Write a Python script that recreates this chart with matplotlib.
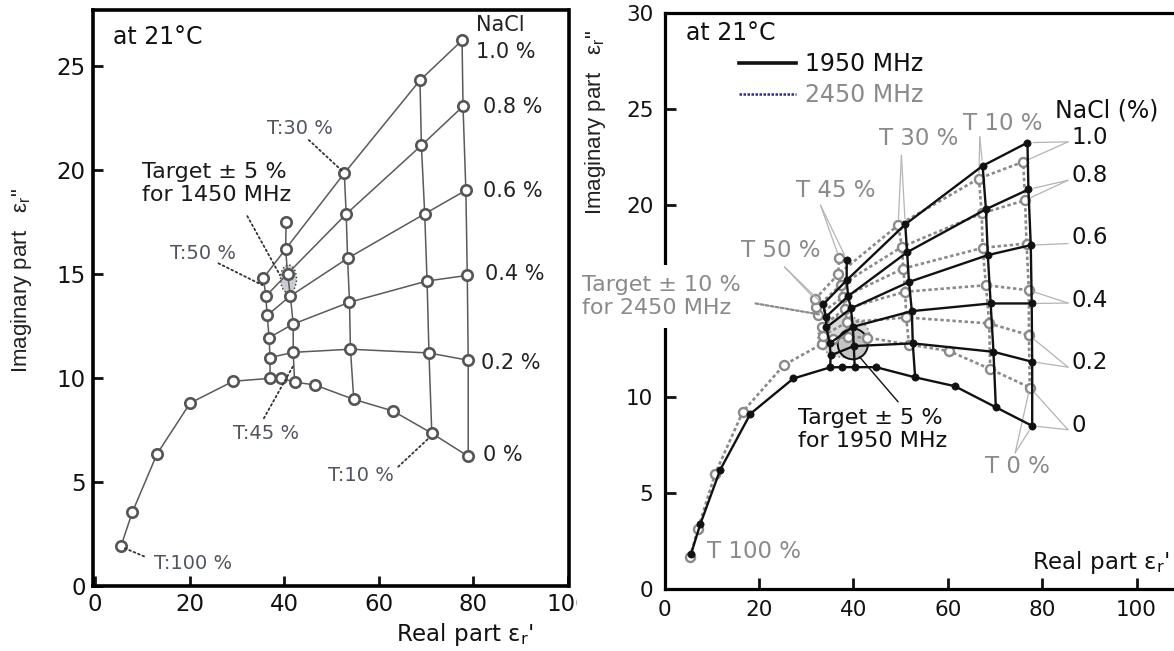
import matplotlib
matplotlib.use("Agg")
import matplotlib.pyplot as plt
from matplotlib.patches import Ellipse, Rectangle
from matplotlib.lines import Line2D

plt.rcParams['font.family'] = ['DejaVu Sans']
plt.rcParams['mathtext.fontset'] = 'dejavusans'
plt.rcParams['mathtext.default'] = 'regular'

# ---------------- data ----------------
nacl_levels = ["0.2", "0.4", "0.6", "0.8", "1.0"]
t_columns = ["T50", "T45", "T30", "T10", "T0"]
sweep_col_idx = [5, 7, 9, 11, 12]   # index of each T column inside the 0 % NaCl sweep

# 1450 MHz (left panel)
l_sweep_re = [5.5, 7.9, 13.1, 20.1, 29.2, 37.0, 39.4, 42.2, 46.5, 54.7, 63.0, 71.2, 78.9]
l_sweep_im = [1.91, 3.54, 6.33, 8.78, 9.83, 9.97, 9.98, 9.79, 9.65, 8.96, 8.40, 7.33, 6.22]
l_re = [[37.0, 41.9, 54.0, 70.6, 78.9],
        [36.8, 41.9, 53.8, 70.2, 78.7],
        [36.4, 41.3, 53.4, 69.7, 78.4],
        [36.1, 40.7, 53.1, 69.0, 77.8],
        [35.6, 40.3, 52.7, 68.7, 77.6]]
l_im = [[10.97, 11.22, 11.37, 11.19, 10.84],
        [11.93, 12.58, 13.63, 14.65, 14.92],
        [13.00, 13.93, 15.74, 17.88, 19.01],
        [13.92, 15.00, 17.87, 21.17, 23.05],
        [14.79, 16.19, 19.83, 24.30, 26.22]]
l_top = (40.4, 17.49)

# 1950 MHz (right panel, black)
b_sweep_re = [5.6, 7.6, 11.8, 18.2, 27.3, 35.1, 37.6, 40.3, 44.8, 53.1, 61.5, 70.2, 77.9]
b_sweep_im = [1.81, 3.39, 6.21, 9.13, 10.97, 11.55, 11.56, 11.56, 11.56, 11.03, 10.57, 9.47, 8.50]
b_re = [[35.2, 40.1, 52.6, 69.7, 77.9],
        [35.0, 39.9, 52.4, 69.1, 77.8],
        [34.3, 39.5, 51.8, 68.5, 77.6],
        [34.2, 38.9, 51.4, 68.1, 77.1],
        [33.6, 38.6, 51.0, 67.4, 76.9]]
b_im = [[12.17, 12.66, 12.80, 12.36, 11.84],
        [12.80, 13.66, 14.48, 14.88, 14.88],
        [13.63, 14.62, 16.00, 17.40, 17.92],
        [14.18, 15.26, 17.55, 19.79, 20.82],
        [14.83, 16.09, 19.00, 22.05, 23.26]]
b_top = (38.6, 17.17)

# 2450 MHz (right panel, grey)
g_sweep_re = [5.4, 7.1, 10.7, 16.6, 25.3, 33.3, 35.8, 38.9, 43.0, 51.8, 60.3, 69.0, 77.4]
g_sweep_im = [1.67, 3.14, 5.99, 9.24, 11.67, 12.76, 13.05, 13.14, 13.10, 12.74, 12.40, 11.46, 10.50]
g_re = [[33.5, 38.7, 51.2, 68.8, 77.2],
        [33.3, 38.2, 51.0, 68.1, 77.2],
        [32.6, 37.8, 50.6, 67.4, 76.7],
        [32.2, 37.3, 50.3, 67.2, 76.4],
        [31.9, 36.8, 49.5, 66.6, 76.0]]
g_im = [[13.20, 13.90, 14.15, 13.84, 13.23],
        [13.66, 14.60, 15.49, 15.83, 15.57],
        [14.27, 15.20, 16.70, 17.78, 18.00],
        [14.67, 15.83, 17.83, 19.57, 20.26],
        [15.10, 16.40, 18.96, 21.39, 22.26]]
g_top = (37.0, 17.27)

x_ticks = [0, 20, 40, 60, 80, 100]
l_y_ticks = [0, 5, 10, 15, 20, 25]
r_y_ticks = [0, 5, 10, 15, 20, 25, 30]
r_y_ticklabels = ["0", "5", "10", "", "20", "25", "30"]   # "15" hidden under the target note


def draw_grid(ax, s_re, s_im, rows_re, rows_im, top, line_kw, mark_kw, zl, zm):
    ax.plot(s_re, s_im, zorder=zl, **line_kw)
    ax.plot(s_re, s_im, ls='none', zorder=zm, **mark_kw)
    for re, im in zip(rows_re, rows_im):
        ax.plot(re, im, zorder=zl, **line_kw)
        ax.plot(re, im, ls='none', zorder=zm, **mark_kw)
    for j, si in enumerate(sweep_col_idx):
        cre = [s_re[si]] + [r[j] for r in rows_re]
        cim = [s_im[si]] + [r[j] for r in rows_im]
        if t_columns[j] == "T45":
            cre.append(top[0])
            cim.append(top[1])
        ax.plot(cre, cim, zorder=zl, **line_kw)
    ax.plot([top[0]], [top[1]], ls='none', zorder=zm, **mark_kw)


W, H = 1174, 651
fig = plt.figure(figsize=(W / 100, H / 100), dpi=100)

# ---------------- left panel ----------------
ax1 = fig.add_axes([92.6 / W, 1 - 585.7 / H, 475.9 / W, 575.7 / H])
ax1.set_xlim(-0.51, 100.1)
ax1.set_ylim(0, 27.68)
for s in ax1.spines.values():
    s.set_linewidth(2.6)
ax1.set_xticks(x_ticks)
ax1.set_yticks(l_y_ticks)
ax1.tick_params(direction='in', length=7, width=2, labelsize=16.5, pad=5, colors='#111')

line_l = dict(color='#5a5a5a', lw=1.1)
mark_l = dict(marker='o', ms=7.5, mfc='white', mec='#555', mew=1.9)
ax1.add_patch(Ellipse((40.9, 14.75), 3.4, 1.35, fc='#c9ccd3', ec='#333', ls=':', lw=1.0, zorder=1.5))
draw_grid(ax1, l_sweep_re, l_sweep_im, l_re, l_im, l_top, line_l, mark_l, 2, 3)

tcol = '#50555f'
ax1.text(3.8, 26.38, "at 21°C", fontsize=17, va='center', ha='left', color='#111')
ax1.text(80.5, 26.96, "NaCl", fontsize=15, va='center', ha='left', color='#222')
nacl_lab_l = ["1.0 %", "0.8 %", "0.6 %", "0.4 %", "0.2 %", "0 %"]
nacl_lab_pos_l = [(80.5, 25.64), (82.0, 23.04), (82.0, 19.0), (82.5, 14.97), (81.6, 10.7), (82.0, 6.28)]
for lab, (x, y) in zip(nacl_lab_l, nacl_lab_pos_l):
    ax1.text(x, y, lab, fontsize=15, va='center', ha='left', color='#222')

ax1.text(36.4, 21.96, "T:30 %", fontsize=14, va='center', ha='left', color=tcol)
ax1.text(15.9, 15.95, "T:50 %", fontsize=14, va='center', ha='left', color=tcol)
ax1.text(29.2, 7.34, "T:45 %", fontsize=14, va='center', ha='left', color=tcol)
ax1.text(49.3, 5.32, "T:10 %", fontsize=14, va='center', ha='left', color=tcol)
ax1.text(12.5, 1.09, "T:100 %", fontsize=14, va='center', ha='left', color=tcol)
ax1.text(9.9, 19.34, "Target ± 5 %\nfor 1450 MHz", fontsize=16, va='center', ha='left',
         color='#1a1a1a', linespacing=1.15)

dot = dict(arrowstyle='-', color='#333', lw=1.3, ls=':', shrinkA=0, shrinkB=0)
for st, en in [((45.2, 21.43), (52.2, 19.95)), ((26.1, 15.5), (35.4, 14.45)),
               ((32.2, 17.77), (39.1, 14.93)), ((35.7, 8.05), (41.8, 10.53)),
               ((64.1, 5.72), (70.6, 7.1)), ((6.3, 1.8), (10.8, 1.37))]:
    ax1.annotate("", xy=en, xytext=st, arrowprops=dot)

# ---------------- right panel ----------------
ax2 = fig.add_axes([664.5 / W, 1 - 589 / H, (1190 - 664.5) / W, 575.7 / H])
ax2.set_xlim(0, (1190 - 664.5) / 4.72)
ax2.set_ylim(0, 30)
for s in ax2.spines.values():
    s.set_linewidth(2.3)
ax2.spines['right'].set_visible(False)
ax2.set_xticks(x_ticks)
ax2.set_yticks(r_y_ticks)
ax2.set_yticklabels(r_y_ticklabels)
ax2.tick_params(direction='in', length=8, width=2, labelsize=15.5, pad=8, colors='#111')

grey = '#8a8a8a'
ax2.add_patch(Ellipse((38.0, 13.15), 11.0, 2.15, fc='#dadada', ec=grey, ls=':', lw=1.2, zorder=1.2))
ax2.add_patch(Ellipse((39.9, 12.77), 6.4, 1.6, fc='#c4c4c4', ec='#111', lw=1.4, zorder=1.4))

line_g = dict(color=grey, lw=1.9, ls=(0, (1.3, 1.0)))
mark_g = dict(marker='o', ms=6.5, mfc='white', mec=grey, mew=1.7)
line_b = dict(color='#111', lw=1.7)
mark_b = dict(marker='o', ms=5.2, mfc='#111', mec='#111', mew=0.5)
draw_grid(ax2, g_sweep_re, g_sweep_im, g_re, g_im, g_top, line_g, mark_g, 2, 3)
draw_grid(ax2, b_sweep_re, b_sweep_im, b_re, b_im, b_top, line_b, mark_b, 4, 5)

ax2.text(4.6, 28.96, "at 21°C", fontsize=17, va='center', ha='left', color='#111')
leg = ax2.legend(handles=[Line2D([], [], color='#111', lw=2.6),
                          Line2D([], [], color='#2b2b90', lw=1.8, ls=(0, (1, 0.6)))],
                 labels=["1950 MHz", "2450 MHz"], loc='upper left',
                 bbox_to_anchor=(0.1418, 0.932), frameon=False, fontsize=17,
                 handlelength=2.4, handletextpad=0.4, labelspacing=0.28,
                 borderpad=0, borderaxespad=0)
leg.get_texts()[0].set_color('#111')
leg.get_texts()[1].set_color(grey)

ax2.text(82.7, 24.95, "NaCl (%)", fontsize=17, va='center', ha='left', color='#111')
nacl_lab_r = ["1.0", "0.8", "0.6", "0.4", "0.2", "0"]
nacl_lab_y_r = [23.54, 21.56, 18.33, 15.05, 11.82, 8.54]
for lab, y in zip(nacl_lab_r, nacl_lab_y_r):
    ax2.text(86.3, y, lab, fontsize=16.5, va='center', ha='left', color='#111')

leader = dict(arrowstyle='-', color='#b4b4b4', lw=0.9, shrinkA=0, shrinkB=4)
# NaCl leaders: label anchor -> black / grey T0 points
nacl_anchor_y = [23.3, 21.3, 18.0, 14.9, 11.56, 8.3]
rows_b_t0 = [b_re[4][4], b_re[3][4], b_re[2][4], b_re[1][4], b_re[0][4], b_sweep_re[12]]
rows_bi_t0 = [b_im[4][4], b_im[3][4], b_im[2][4], b_im[1][4], b_im[0][4], b_sweep_im[12]]
rows_g_t0 = [g_re[4][4], g_re[3][4], g_re[2][4], g_re[1][4], g_re[0][4], g_sweep_re[12]]
rows_gi_t0 = [g_im[4][4], g_im[3][4], g_im[2][4], g_im[1][4], g_im[0][4], g_sweep_im[12]]
for k, ay in enumerate(nacl_anchor_y):
    ax2.annotate("", xy=(rows_b_t0[k], rows_bi_t0[k]), xytext=(85.5, ay), arrowprops=leader)
    if nacl_lab_r[k] != "0.6":
        ax2.annotate("", xy=(rows_g_t0[k], rows_gi_t0[k]), xytext=(85.5, ay), arrowprops=leader)

# T labels
ax2.text(45.4, 23.49, "T 30 %", fontsize=16.5, va='center', ha='left', color=grey)
ax2.text(63.2, 24.27, "T 10 %", fontsize=16.5, va='center', ha='left', color=grey)
ax2.text(27.9, 20.78, "T 45 %", fontsize=16.5, va='center', ha='left', color=grey)
ax2.text(16.2, 17.66, "T 50 %", fontsize=16.5, va='center', ha='left', color=grey)
ax2.text(68.0, 6.37, "T 0 %", fontsize=16.5, va='center', ha='left', color=grey)
ax2.text(9.0, 1.94, "T 100 %", fontsize=16.5, va='center', ha='left', color=grey)

t_leads = [((50.2, 22.6), [(g_re[4][2], g_im[4][2]), (b_re[4][2], b_im[4][2])]),
           ((66.8, 23.56), [(g_re[4][3], g_im[4][3]), (b_re[4][3], b_im[4][3])]),
           ((33.05, 20.0), [g_top, b_top]),
           ((25.4, 16.79), [(g_re[4][0], g_im[4][0]), (b_re[4][0], b_im[4][0])]),
           ((74.3, 7.1), [(g_sweep_re[12], g_sweep_im[12]), (b_sweep_re[12], b_sweep_im[12])])]
for anchor, targets in t_leads:
    for tg in targets:
        ax2.annotate("", xy=tg, xytext=anchor, arrowprops=leader)

ax2.text(28.2, 8.3, "Target ± 5 %\nfor 1950 MHz", fontsize=16, va='center', ha='left',
         color='#111', linespacing=1.2)
ax2.annotate("", xy=(41.3, 12.1), xytext=(49.5, 9.75),
             arrowprops=dict(arrowstyle='-', color='#111', lw=1.0, shrinkA=0, shrinkB=0))
ax2.text(-17.5, 15.26, "Target ± 10 %\nfor 2450 MHz", fontsize=16, va='center', ha='left',
         color=grey, linespacing=1.2, zorder=10,
         bbox=dict(boxstyle='square,pad=0.45', fc='white', ec='none'))
ax2.annotate("", xy=(33.0, 14.3), xytext=(19.3, 14.88),
             arrowprops=dict(arrowstyle='-', color=grey, lw=1.6, ls=(0, (1.3, 1.0)),
                             shrinkA=0, shrinkB=0))

# axis labels
ylab = "Imaginary part   ε$_{r}$\""
fig.text(22 / W, 1 - 280 / H, ylab, rotation=90, ha='center', va='center',
         fontsize=16, family='Liberation Sans', color='#222')
fig.text(596 / W, 1 - 122 / H, ylab, rotation=90, ha='center', va='center',
         fontsize=16, family='Liberation Sans', color='#222')
xlab = "Real part ε$_{r}$'"
fig.text(465 / W, 1 - 635 / H, xlab, ha='center', va='center', fontsize=16.5, color='#111')
fig.text(1101 / W, 1 - 563 / H, xlab, ha='center', va='center', fontsize=16.5, color='#111')

# white strip where the right picture starts (cuts the left "100" label)
fig.patches.append(Rectangle((577 / W, 0), 45 / W, 61 / H, transform=fig.transFigure,
                             fc='white', ec='none', zorder=5))

fig.savefig("out.png", dpi=100)
